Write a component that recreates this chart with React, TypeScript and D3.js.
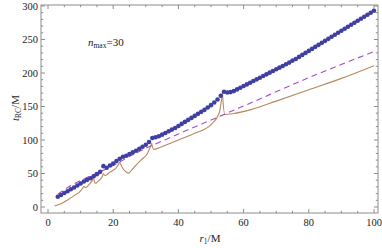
import React from "react";
import * as d3 from "d3";

const W = 382;
const H = 248;

const xTicks = [0, 20, 40, 60, 80, 100];
const yTicks = [0, 50, 100, 150, 200, 250, 300];

// blue dots: r1 = 3..100
const dotR = d3.range(3, 101);
const dotT = [
  15.4, 18, 21, 23.5, 26.5, 29, 32, 35, 38, 40.5, 43, 46, 49, 52.5,
  61, 58.5, 62, 65, 68.5, 72, 75, 76.5, 79, 81.5, 84, 87, 90, 93, 97,
  103, 104, 105.5, 108, 110.5, 113, 115.5, 118, 121, 124, 127, 130, 133,
  136, 139, 142, 145, 148.5, 152, 156, 160.5, 166, 172, 171, 171.5, 173,
  175.5, 178, 180.5, 183, 185.5, 188, 190.5, 193, 195.5, 198, 200.5, 203,
  205.5, 208, 210.5, 213, 215.5, 218.5, 221, 224, 227, 230, 233, 236, 239,
  242, 245, 248, 251, 254, 257, 260, 263, 266, 269, 272, 275, 278, 281,
  284, 287, 290, 293,
];

// dashed curve (read points)
const dashR = [3, 7, 12, 20, 26, 40, 53, 62, 80, 100];
const dashT = [19, 32, 44, 62, 78, 109, 136, 155, 193, 232];

// brown curve, pieces between cusps
const brownPieces: [number, number][][] = [
  [[2, 1.5], [4, 5], [6, 10.5], [8, 17], [10, 24], [11, 31]],
  [[11, 31], [11.6, 29], [12.5, 33], [13.5, 39], [14, 44]],
  [[14, 44], [14.3, 37], [14.6, 35]],
  [[14.6, 35], [15.5, 39], [16.5, 44], [17, 50]],
  [[17, 50], [17.5, 47], [19, 52], [21, 59], [22, 67]],
  [[22, 67], [23, 57], [24.8, 50]],
  [[24.8, 50], [26.5, 60], [28.5, 70], [30.5, 80], [31.8, 95]],
  [[31.8, 95], [32.4, 86], [36, 92], [40, 100], [45, 110], [50, 123], [52.5, 140], [53.5, 170]],
  [[53.5, 170], [54.2, 138], [57, 139.5], [62, 145], [70, 158], [80, 175], [90, 192], [100, 211]],
];

const xScale = d3.scaleLinear().domain([0, 100]).range([48, 374]);
const yScale = d3.scaleLinear().domain([0, 300]).range([207, 6]);

const left = 41, right = 378, top = 5, bottom = 213;

export default function App() {
  const xMinor = d3.range(0, 101, 5).filter((v) => v % 20 !== 0);
  const yMinor = d3.range(0, 301, 10).filter((v) => v % 50 !== 0);
  const dashLine = d3
    .line<number>()
    .x((_, i) => xScale(dashR[i]))
    .y((d) => yScale(d))
    .curve(d3.curveMonotoneX);
  const brownLine = d3
    .line<[number, number]>()
    .x((d) => xScale(d[0]))
    .y((d) => yScale(d[1]))
    .curve(d3.curveMonotoneX);
  const frameColor = "#8c8c8c";
  const font = "'Liberation Serif', 'DejaVu Serif', serif";
  return (
    <svg width={W} height={H} style={{ position: "absolute", left: 0, top: 0 }}>
      <rect x={0} y={0} width={W} height={H} fill="#fff" />
      <g>
        {brownPieces.map((p, i) => (
          <path key={i} d={brownLine(p) || ""} fill="none" stroke="#b8875c" strokeWidth={1.1} />
        ))}
        <path d={dashLine(dashT) || ""} fill="none" stroke="#a24fc2" strokeWidth={1.1} strokeDasharray="6,4" />
        {dotT.map((t, i) => (
          <circle key={i} cx={xScale(dotR[i])} cy={yScale(t)} r={2.3} fill="#3f3fa3" />
        ))}
      </g>
      <rect x={left} y={top} width={right - left} height={bottom - top} fill="none" stroke={frameColor} strokeWidth={1} />
      {xTicks.map((v) => (
        <g key={"xt" + v}>
          <line x1={xScale(v)} x2={xScale(v)} y1={bottom} y2={bottom - 4} stroke={frameColor} />
          <line x1={xScale(v)} x2={xScale(v)} y1={top} y2={top + 4} stroke={frameColor} />
          <text x={xScale(v)} y={bottom + 13} fontSize={10.5} fontFamily={font} textAnchor="middle" fill="#222">
            {v}
          </text>
        </g>
      ))}
      {xMinor.map((v) => (
        <g key={"xm" + v}>
          <line x1={xScale(v)} x2={xScale(v)} y1={bottom} y2={bottom - 2.2} stroke={frameColor} />
          <line x1={xScale(v)} x2={xScale(v)} y1={top} y2={top + 2.2} stroke={frameColor} />
        </g>
      ))}
      {yTicks.map((v) => (
        <g key={"yt" + v}>
          <line x1={left} x2={left + 4} y1={yScale(v)} y2={yScale(v)} stroke={frameColor} />
          <line x1={right} x2={right - 4} y1={yScale(v)} y2={yScale(v)} stroke={frameColor} />
          <text x={left - 3} y={yScale(v) + 3.5} fontSize={10.5} fontFamily={font} textAnchor="end" fill="#222">
            {v}
          </text>
        </g>
      ))}
      {yMinor.map((v) => (
        <g key={"ym" + v}>
          <line x1={left} x2={left + 2.2} y1={yScale(v)} y2={yScale(v)} stroke={frameColor} />
          <line x1={right} x2={right - 2.2} y1={yScale(v)} y2={yScale(v)} stroke={frameColor} />
        </g>
      ))}
      <text x={210} y={242} fontSize={11} fontFamily={font} textAnchor="middle" fill="#222">
        <tspan fontStyle="italic">r</tspan>
        <tspan fontSize={7.5} dy={2}>1</tspan>
        <tspan dy={-2}>/M</tspan>
      </text>
      <text transform="translate(19,108) rotate(-90)" fontSize={11} fontFamily={font} textAnchor="middle" fill="#222">
        <tspan fontStyle="italic">t</tspan>
        <tspan fontSize={7.5} dy={2}>RC</tspan>
        <tspan dy={-2}>/M</tspan>
      </text>
      <text x={88} y={46} fontSize={11} fontFamily={font} fill="#222">
        <tspan fontStyle="italic">n</tspan>
        <tspan fontSize={7.5} dy={2}>max</tspan>
        <tspan dy={-2}>=30</tspan>
      </text>
    </svg>
  );
}
